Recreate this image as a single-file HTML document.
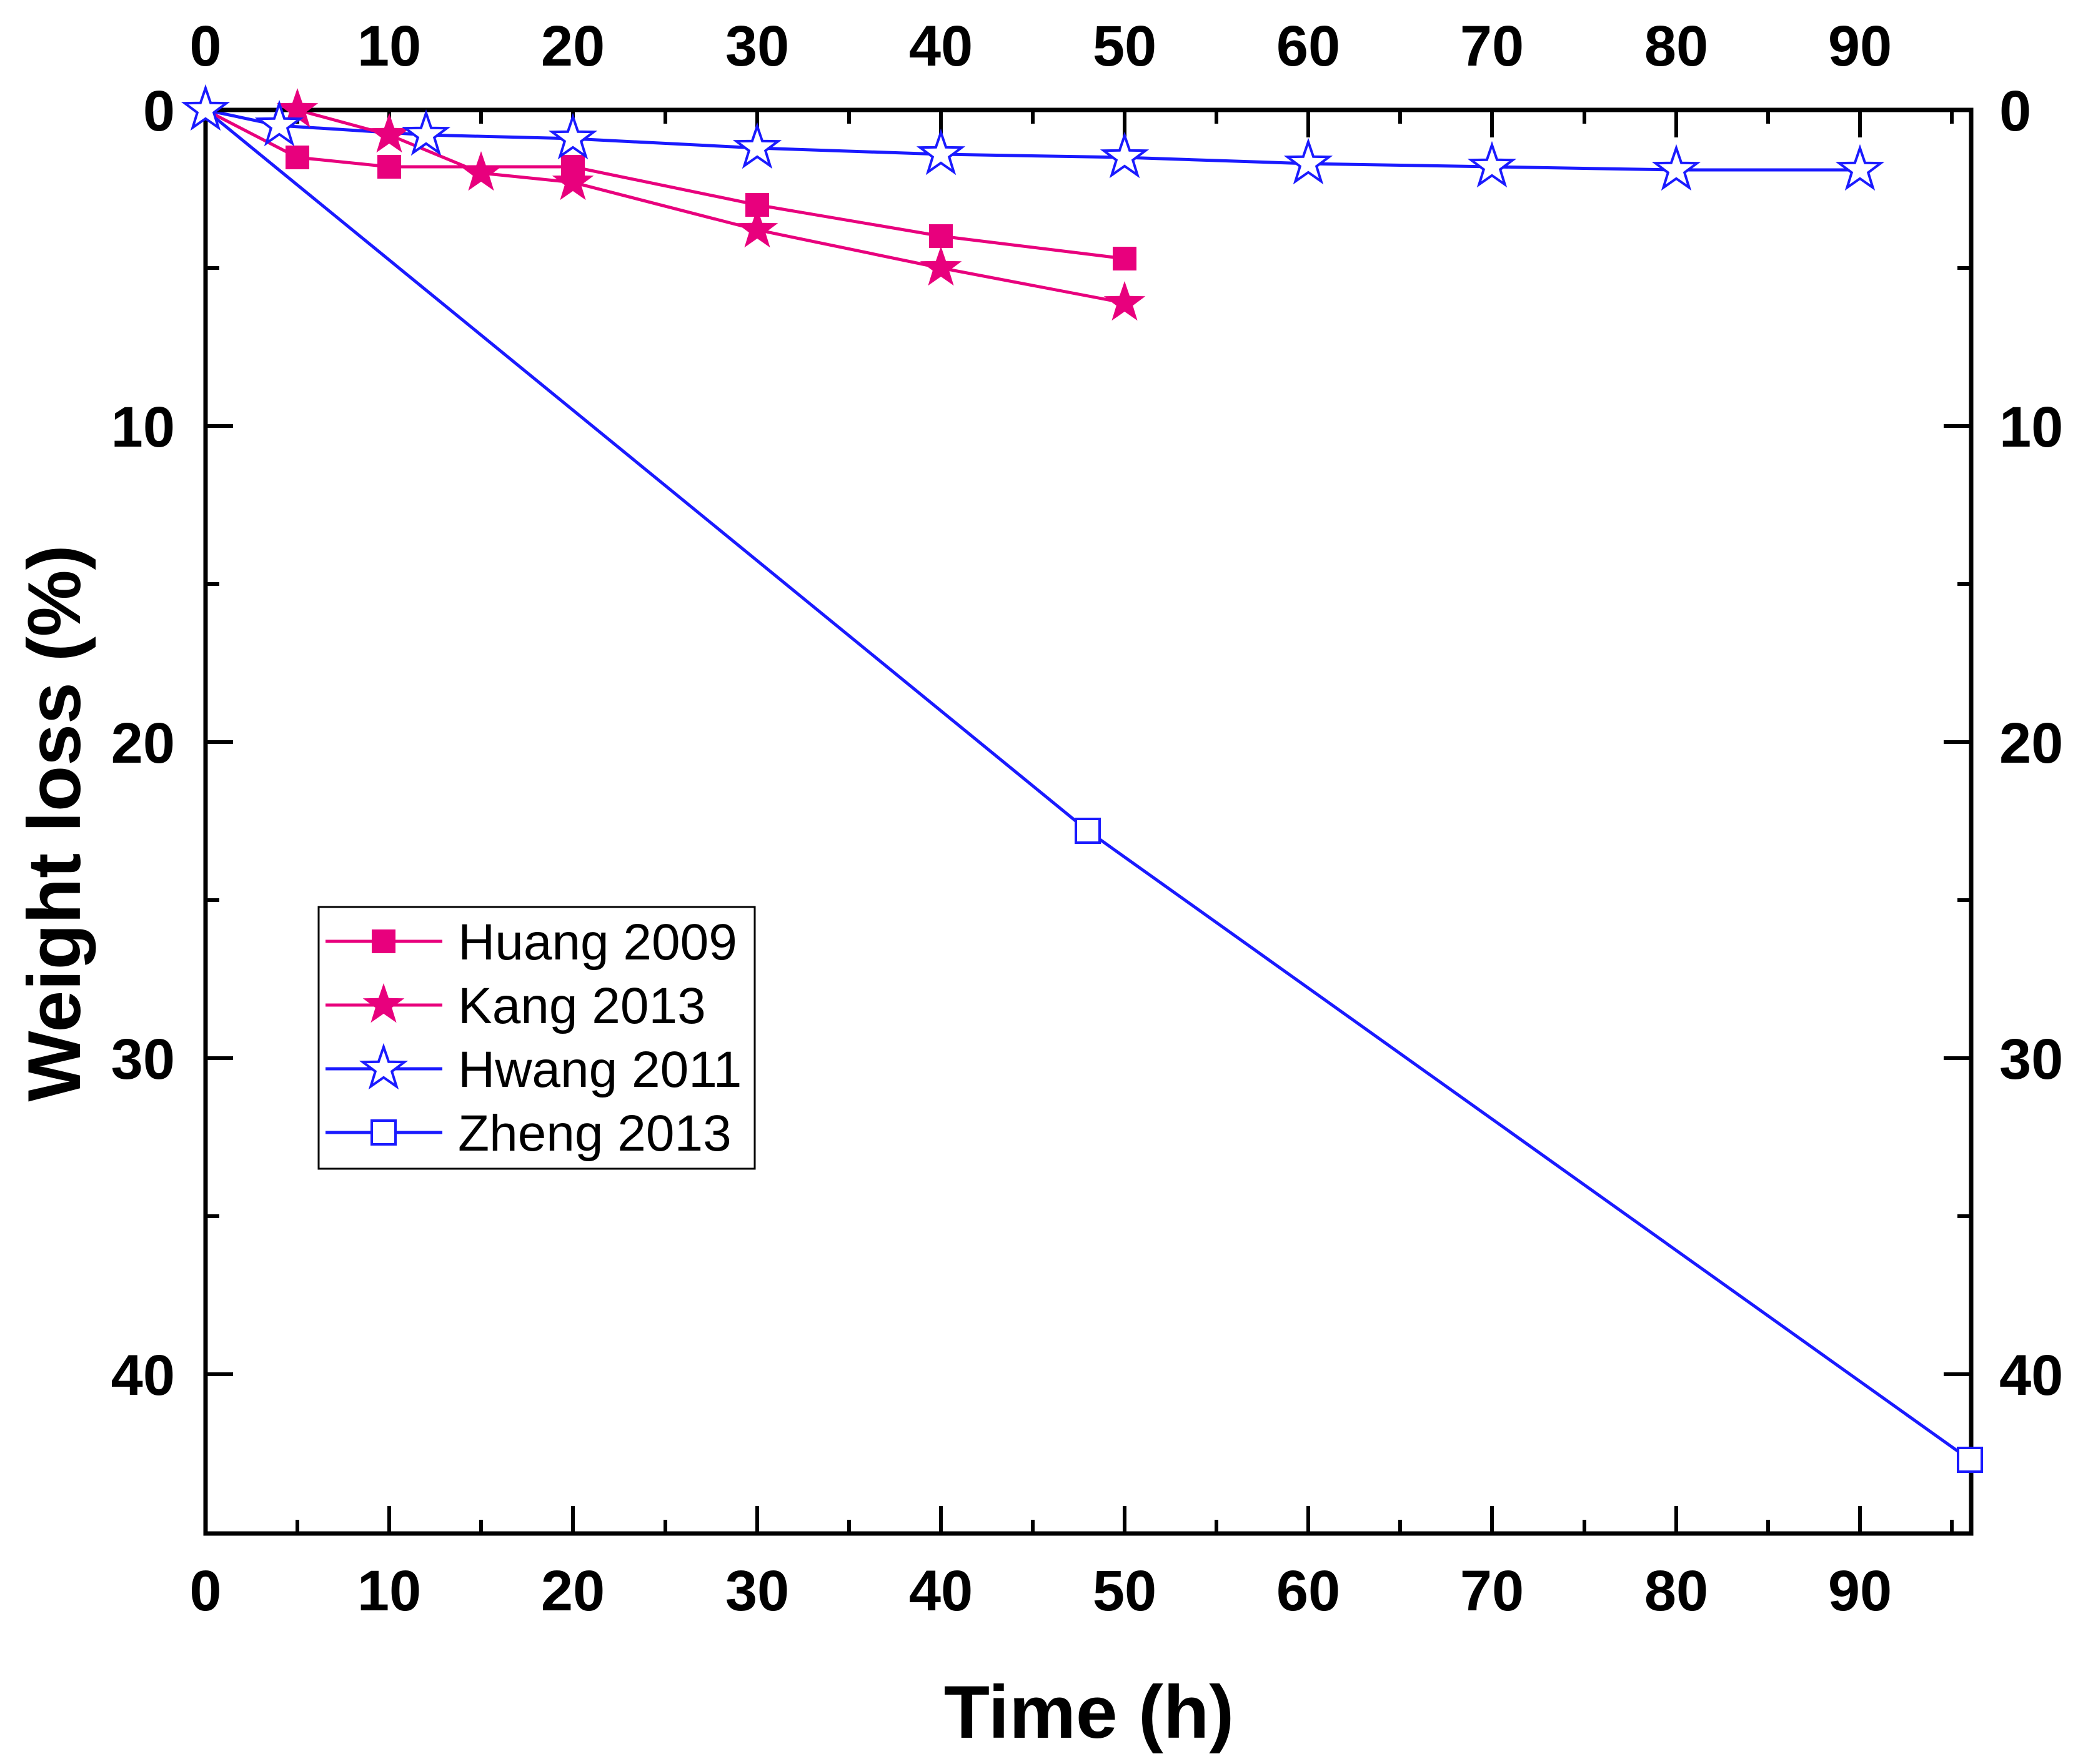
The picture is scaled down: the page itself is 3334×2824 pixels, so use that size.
<!DOCTYPE html>
<html><head><meta charset="utf-8"><style>
html,body{margin:0;padding:0;background:#fff;}
svg{display:block;}
text{font-family:"Liberation Sans",Arial,sans-serif;}
</style></head><body>
<svg width="3334" height="2824" viewBox="0 0 3334 2824" xmlns="http://www.w3.org/2000/svg">
<defs>
<path id="star" d="M0,-35 L8.1,-11.2 L33.3,-10.8 L13.2,4.3 L20.6,28.3 L0,13.9 L-20.6,28.3 L-13.2,4.3 L-33.3,-10.8 L-8.1,-11.2 Z"/>
</defs>
<rect width="3334" height="2824" fill="#fff"/>

<polyline fill="none" stroke="#1a1aff" stroke-width="5" points="329,176 1741,1330 3153,2337"/>
<polyline fill="none" stroke="#1a1aff" stroke-width="5" points="329,176 447,201 682,216 917,222 1212,237 1506,247 1800,252 2094,262 2388,267 2683,272 2977,272"/>
<polyline fill="none" stroke="#e8007d" stroke-width="5" points="329,176 476,252 623,267 917,267 1212,328 1506,378 1800,414"/>
<polyline fill="none" stroke="#e8007d" stroke-width="5" points="329,176 476,176 623,216 770,277 917,292 1212,368 1506,429 1800,485"/>

<g stroke="#000" stroke-width="7" fill="none">
<rect x="329" y="176" width="2826" height="2279"/>
</g>
<g stroke="#000" stroke-width="6">
<path d="M329,2455v-44M623,2455v-44M917,2455v-44M1212,2455v-44M1506,2455v-44M1800,2455v-44M2094,2455v-44M2388,2455v-44M2683,2455v-44M2977,2455v-44"/>
<path d="M476,2455v-22M770,2455v-22M1065,2455v-22M1359,2455v-22M1653,2455v-22M1947,2455v-22M2241,2455v-22M2536,2455v-22M2830,2455v-22M3124,2455v-22"/>
<path d="M329,176v44M623,176v44M917,176v44M1212,176v44M1506,176v44M1800,176v44M2094,176v44M2388,176v44M2683,176v44M2977,176v44"/>
<path d="M476,176v22M770,176v22M1065,176v22M1359,176v22M1653,176v22M1947,176v22M2241,176v22M2536,176v22M2830,176v22M3124,176v22"/>
<path d="M329,176h44M329,682h44M329,1188h44M329,1694h44M329,2200h44"/>
<path d="M329,429h22M329,935h22M329,1441h22M329,1947h22"/>
<path d="M3155,176h-44M3155,682h-44M3155,1188h-44M3155,1694h-44M3155,2200h-44"/>
<path d="M3155,429h-22M3155,935h-22M3155,1441h-22M3155,1947h-22"/>
</g>

<g fill="#fff" stroke="#1a1aff" stroke-width="4">
<rect x="1722" y="1311" width="38" height="38"/>
<rect x="3134" y="2318" width="38" height="38"/>
</g>
<g fill="#e8007d">
<rect x="457" y="233" width="38" height="38"/>
<rect x="604" y="248" width="38" height="38"/>
<rect x="898" y="248" width="38" height="38"/>
<rect x="1193" y="309" width="38" height="38"/>
<rect x="1487" y="359" width="38" height="38"/>
<rect x="1781" y="395" width="38" height="38"/>
<use href="#star" x="476" y="176"/>
<use href="#star" x="623" y="216"/>
<use href="#star" x="770" y="277"/>
<use href="#star" x="917" y="292"/>
<use href="#star" x="1212" y="368"/>
<use href="#star" x="1506" y="429"/>
<use href="#star" x="1800" y="485"/>
</g>
<g fill="#fff" stroke="#1a1aff" stroke-width="4">
<use href="#star" x="329" y="176"/>
<use href="#star" x="447" y="201"/>
<use href="#star" x="682" y="216"/>
<use href="#star" x="917" y="222"/>
<use href="#star" x="1212" y="237"/>
<use href="#star" x="1506" y="247"/>
<use href="#star" x="1800" y="252"/>
<use href="#star" x="2094" y="262"/>
<use href="#star" x="2388" y="267"/>
<use href="#star" x="2683" y="272"/>
<use href="#star" x="2977" y="272"/>
</g>

<g font-size="92" font-weight="bold" fill="#000" text-anchor="middle">
<text x="329" y="2578">0</text><text x="623" y="2578">10</text><text x="917" y="2578">20</text><text x="1212" y="2578">30</text><text x="1506" y="2578">40</text><text x="1800" y="2578">50</text><text x="2094" y="2578">60</text><text x="2388" y="2578">70</text><text x="2683" y="2578">80</text><text x="2977" y="2578">90</text>
<text x="329" y="105">0</text><text x="623" y="105">10</text><text x="917" y="105">20</text><text x="1212" y="105">30</text><text x="1506" y="105">40</text><text x="1800" y="105">50</text><text x="2094" y="105">60</text><text x="2388" y="105">70</text><text x="2683" y="105">80</text><text x="2977" y="105">90</text>
</g>
<g font-size="92" font-weight="bold" fill="#000" text-anchor="end">
<text x="280" y="209">0</text><text x="280" y="715">10</text><text x="280" y="1221">20</text><text x="280" y="1727">30</text><text x="280" y="2233">40</text>
</g>
<g font-size="92" font-weight="bold" fill="#000" text-anchor="start">
<text x="3200" y="209">0</text><text x="3200" y="715">10</text><text x="3200" y="1221">20</text><text x="3200" y="1727">30</text><text x="3200" y="2233">40</text>
</g>

<text x="1743" y="2782" font-size="120" font-weight="bold" text-anchor="middle">Time (h)</text>
<text transform="translate(128,1318) rotate(-90)" font-size="120" font-weight="bold" text-anchor="middle">Weight loss (%)</text>

<rect x="510" y="1452" width="698" height="419" fill="#fff" stroke="#000" stroke-width="3"/>
<g stroke-width="5">
<line x1="521" y1="1507" x2="708" y2="1507" stroke="#e8007d"/>
<line x1="521" y1="1609" x2="708" y2="1609" stroke="#e8007d"/>
<line x1="521" y1="1711" x2="708" y2="1711" stroke="#1a1aff"/>
<line x1="521" y1="1813" x2="708" y2="1813" stroke="#1a1aff"/>
</g>
<rect x="595" y="1488" width="38" height="38" fill="#e8007d"/>
<use href="#star" x="614" y="1609" fill="#e8007d"/>
<use href="#star" x="614" y="1711" fill="#fff" stroke="#1a1aff" stroke-width="4"/>
<rect x="595" y="1794" width="38" height="38" fill="#fff" stroke="#1a1aff" stroke-width="4"/>
<g font-size="82" fill="#000">
<text x="733" y="1536">Huang 2009</text>
<text x="733" y="1638">Kang 2013</text>
<text x="733" y="1740">Hwang 2011</text>
<text x="733" y="1842">Zheng 2013</text>
</g>
</svg>
</body></html>
